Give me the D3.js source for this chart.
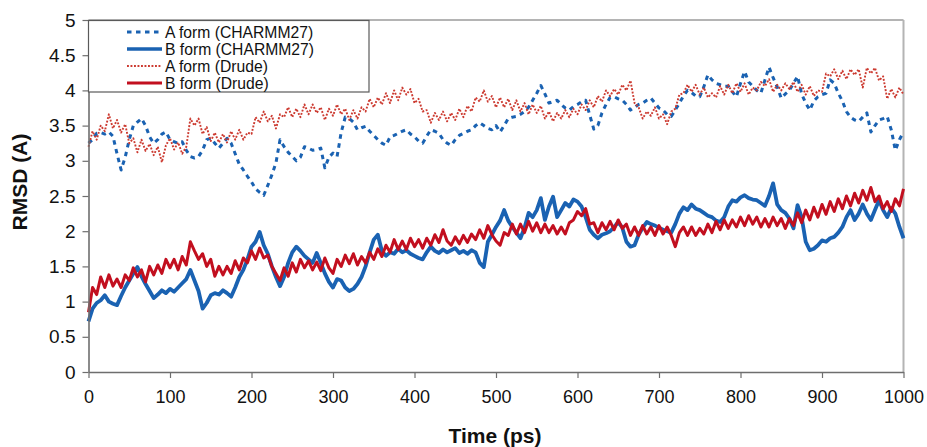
<!DOCTYPE html>
<html>
<head>
<meta charset="utf-8">
<script src="https://cdn.jsdelivr.net/npm/d3@7"></script>
<style>
  html, body { margin: 0; padding: 0; background: #fff; }
  svg { display: block; font-family: "Liberation Sans", Arial, sans-serif; }
</style>
</head>
<body>
<svg id="chart" width="927" height="447"></svg>
<script>
// Time axis: one sample every 5 ps from 0 to 1000 ps
const timeStep = 5;
const xTicks = [0, 100, 200, 300, 400, 500, 600, 700, 800, 900, 1000];
const yTicks = [0, 0.5, 1, 1.5, 2, 2.5, 3, 3.5, 4, 4.5, 5];
const yTickLabels = ["0", "0.5", "1", "1.5", "2", "2.5", "3", "3.5", "4", "4.5", "5"];
const seriesNames = ["A form (CHARMM27)", "B form (CHARMM27)", "A form (Drude)", "B form (Drude)"];

// RMSD (Å) values, 20 samples (100 ps) per row
const aFormCharmm = [
  3.25,3.3,3.39,3.4,3.38,3.41,3.35,3.1,2.87,3.05,3.3,3.5,3.55,3.6,3.5,3.34,3.25,3.3,3.38,3.41,
  3.3,3.27,3.25,3.27,3.15,3.06,3.04,3.06,3.15,3.3,3.32,3.25,3.18,3.25,3.32,3.25,3.1,2.95,2.87,2.78,
  2.7,2.6,2.55,2.51,2.65,2.8,2.97,3.3,3.2,3.12,3.06,3.0,3.05,3.2,3.18,3.15,3.16,3.18,2.9,3.05,
  3.11,3.06,3.4,3.62,3.6,3.55,3.44,3.47,3.49,3.42,3.36,3.3,3.25,3.22,3.34,3.36,3.39,3.42,3.44,3.38,
  3.34,3.28,3.25,3.35,3.44,3.42,3.39,3.3,3.25,3.22,3.3,3.36,3.39,3.42,3.44,3.5,3.54,3.5,3.46,3.44,
  3.5,3.41,3.5,3.6,3.62,3.63,3.66,3.7,3.76,3.86,3.96,4.07,3.95,3.82,3.84,3.86,3.8,3.75,3.72,3.77,
  3.8,3.84,3.86,3.65,3.45,3.5,3.68,3.8,3.9,3.91,3.88,3.86,3.8,3.72,3.76,3.8,3.82,3.86,3.89,3.82,
  3.75,3.72,3.66,3.63,3.72,3.82,3.92,4.0,3.97,3.92,3.91,4.05,4.22,4.15,4.1,4.08,4.06,4.06,3.98,3.91,
  4.1,4.27,4.12,4.06,4.0,3.96,4.15,4.33,4.18,4.05,3.89,3.95,4.0,4.1,4.2,3.95,3.82,3.72,3.85,3.91,
  3.94,3.96,4.15,4.1,3.96,3.85,3.7,3.62,3.58,3.56,3.62,3.68,3.41,3.5,3.58,3.6,3.63,3.44,3.15,3.3,
  3.41
];
const bFormCharmm = [
  0.72,0.9,0.98,1.02,1.09,1.0,0.97,0.95,1.08,1.2,1.3,1.4,1.49,1.36,1.25,1.15,1.05,1.1,1.16,1.12,
  1.18,1.14,1.2,1.26,1.32,1.45,1.3,1.15,0.9,0.98,1.09,1.12,1.1,1.16,1.12,1.07,1.2,1.35,1.45,1.6,
  1.78,1.85,1.99,1.8,1.68,1.5,1.35,1.22,1.35,1.55,1.7,1.78,1.72,1.65,1.6,1.55,1.69,1.55,1.4,1.28,
  1.2,1.32,1.3,1.2,1.15,1.18,1.25,1.35,1.5,1.7,1.88,1.95,1.72,1.65,1.7,1.68,1.75,1.7,1.73,1.68,
  1.65,1.62,1.6,1.7,1.78,1.72,1.69,1.74,1.7,1.73,1.76,1.69,1.72,1.68,1.73,1.7,1.55,1.49,1.85,1.95,
  2.06,2.15,2.3,2.15,2.06,1.98,1.9,2.05,2.26,2.2,2.3,2.47,2.16,2.35,2.49,2.2,2.3,2.4,2.35,2.45,
  2.42,2.35,2.2,2.02,1.95,1.9,1.95,1.97,2.0,2.06,2.13,2.05,1.85,1.78,1.8,1.95,2.05,2.13,2.1,2.08,
  2.05,2.02,2.0,1.98,2.1,2.25,2.34,2.3,2.38,2.32,2.3,2.26,2.22,2.2,2.15,2.13,2.2,2.35,2.44,2.42,
  2.48,2.51,2.47,2.45,2.44,2.4,2.36,2.5,2.68,2.38,2.3,2.26,2.18,2.04,2.37,2.2,1.85,1.73,1.75,1.8,
  1.87,1.85,1.9,1.92,1.98,2.06,2.2,2.3,2.16,2.25,2.38,2.25,2.16,2.3,2.44,2.3,2.2,2.33,2.25,2.06,
  1.9
];
const aFormDrude = [
  3.2,3.42,3.3,3.5,3.42,3.66,3.46,3.58,3.4,3.52,3.25,3.32,3.12,3.3,3.14,3.24,3.08,3.2,2.98,3.22,
  3.32,3.16,3.26,3.1,3.2,3.6,3.5,3.6,3.38,3.48,3.28,3.4,3.26,3.38,3.26,3.42,3.3,3.44,3.3,3.4,
  3.38,3.62,3.54,3.7,3.56,3.64,3.46,3.66,3.62,3.76,3.62,3.74,3.62,3.8,3.66,3.8,3.68,3.76,3.58,3.74,
  3.64,3.8,3.66,3.74,3.58,3.72,3.6,3.76,3.7,3.88,3.76,3.9,3.8,3.96,3.82,4.0,3.86,4.04,3.94,4.02,
  3.82,3.88,3.7,3.72,3.54,3.68,3.58,3.7,3.56,3.68,3.58,3.74,3.62,3.78,3.7,3.9,3.84,4.0,3.84,3.92,
  3.76,3.9,3.76,3.88,3.72,3.86,3.7,3.82,3.66,3.8,3.68,3.78,3.6,3.7,3.56,3.68,3.6,3.72,3.62,3.74,
  3.66,3.8,3.72,3.86,3.76,3.92,3.84,4.0,3.92,4.02,3.94,4.08,4.0,4.14,3.82,3.76,3.6,3.7,3.64,3.76,
  3.6,3.66,3.52,3.7,3.74,3.94,3.96,4.08,3.98,4.08,3.94,4.04,3.9,3.96,3.9,4.06,3.94,4.08,3.96,4.1,
  3.98,4.1,3.94,4.04,4.0,4.12,4.06,4.16,3.98,4.08,4.0,4.1,4.02,4.12,3.98,4.08,3.94,4.06,3.92,4.0,
  3.98,4.24,4.2,4.3,4.16,4.28,4.16,4.3,4.22,4.3,4.04,4.32,4.24,4.32,4.14,4.2,3.88,4.02,3.9,4.04,
  3.94
];
const bFormDrude = [
  0.85,1.2,1.1,1.35,1.2,1.38,1.22,1.32,1.2,1.38,1.3,1.48,1.35,1.45,1.28,1.5,1.38,1.52,1.4,1.6,
  1.48,1.6,1.45,1.64,1.52,1.85,1.72,1.6,1.68,1.5,1.6,1.36,1.5,1.38,1.5,1.4,1.58,1.45,1.62,1.55,
  1.72,1.6,1.76,1.62,1.66,1.5,1.4,1.3,1.48,1.36,1.55,1.42,1.6,1.48,1.58,1.45,1.56,1.44,1.62,1.48,
  1.4,1.6,1.5,1.66,1.54,1.68,1.52,1.64,1.55,1.7,1.6,1.75,1.64,1.8,1.7,1.88,1.74,1.86,1.74,1.9,
  1.78,1.88,1.76,1.9,1.8,1.95,1.84,2.02,1.86,1.8,1.92,1.82,1.94,1.84,1.96,1.88,2.02,1.9,2.08,1.95,
  1.86,1.8,1.98,1.94,2.1,1.96,2.1,1.98,2.14,2.0,2.12,1.98,2.1,1.98,2.08,1.96,2.06,1.96,2.12,2.16,
  2.28,2.22,2.32,2.1,2.12,1.98,2.12,2.02,2.14,2.02,2.16,2.04,2.1,1.94,2.06,1.94,2.08,1.96,2.06,1.94,
  2.08,1.96,2.06,1.94,1.78,1.98,2.06,1.94,2.06,1.94,2.04,1.96,2.1,1.98,2.14,2.02,2.16,2.04,2.16,2.06,
  2.2,2.08,2.22,2.1,2.2,2.06,2.18,2.06,2.2,2.08,2.18,2.04,2.18,2.08,2.26,2.12,2.3,2.16,2.34,2.2,
  2.38,2.24,2.42,2.28,2.46,2.32,2.5,2.36,2.54,2.4,2.58,2.44,2.62,2.42,2.5,2.32,2.42,2.28,2.46,2.36,
  2.6
];

const svg = d3.select("#chart");
const plot = { left: 88.5, right: 903.5, top: 20, bottom: 372 };

const x = d3.scaleLinear().domain([0, 1000]).range([plot.left, plot.right]);
const y = d3.scaleLinear().domain([0, 5]).range([plot.bottom, plot.top]);

const toPoints = vals => vals.map((v, i) => [i * timeStep, v]);
const line = d3.line().x(d => x(d[0])).y(d => y(d[1]));

// Plot frame: light grey top and right edges
svg.append("line")
  .attr("x1", plot.left).attr("x2", plot.right)
  .attr("y1", plot.top).attr("y2", plot.top)
  .attr("stroke", "#b4b4b4").attr("stroke-width", 2);
svg.append("line")
  .attr("x1", plot.right).attr("x2", plot.right)
  .attr("y1", plot.top).attr("y2", plot.bottom)
  .attr("stroke", "#b4b4b4").attr("stroke-width", 2);

// Series styles
const styles = [
  { data: aFormCharmm, color: "#1a62b2", width: 3, dash: "4.5,4.5" },
  { data: bFormCharmm, color: "#1a62b2", width: 3.8, dash: null },
  { data: aFormDrude, color: "#cc3a30", width: 1.9, dash: "1.9,1.6" },
  { data: bFormDrude, color: "#c20f1f", width: 3, dash: null }
];

const seriesG = svg.append("g");
styles.forEach(s => {
  seriesG.append("path")
    .datum(toPoints(s.data))
    .attr("d", line)
    .attr("fill", "none")
    .attr("stroke", s.color)
    .attr("stroke-width", s.width)
    .attr("stroke-linejoin", "round")
    .attr("stroke-dasharray", s.dash);
});

// Axes
const axisColor = "#6e6e6e";
const xAxis = svg.append("g")
  .attr("transform", `translate(0,${plot.bottom})`)
  .call(d3.axisBottom(x).tickValues(xTicks).tickFormat(d3.format("d"))
    .tickSize(6).tickPadding(12).tickSizeOuter(0));
const yAxis = svg.append("g")
  .attr("transform", `translate(${plot.left},0)`)
  .call(d3.axisLeft(y).tickValues(yTicks).tickFormat((d, i) => yTickLabels[i])
    .tickSize(6).tickPadding(7).tickSizeOuter(0));

[xAxis, yAxis].forEach(g => {
  g.select(".domain").attr("stroke", axisColor).attr("stroke-width", 1.6);
  g.selectAll(".tick line").attr("stroke", axisColor).attr("stroke-width", 1.2);
  g.selectAll(".tick text")
    .attr("fill", "#111")
    .style("font-size", "18px")
    .style("font-family", "'Liberation Sans', Arial, sans-serif");
});
yAxis.selectAll(".tick text").style("font-size", "19px");

// Axis titles
svg.append("text")
  .attr("x", 495).attr("y", 443)
  .attr("text-anchor", "middle")
  .style("font-size", "21px").style("font-weight", "bold")
  .attr("fill", "#111")
  .text("Time (ps)");
svg.append("text")
  .attr("transform", "translate(27,182) rotate(-90)")
  .attr("text-anchor", "middle")
  .style("font-size", "21px").style("font-weight", "bold")
  .attr("fill", "#111")
  .text("RMSD (A)");

// Legend
const legend = svg.append("g");
legend.append("rect")
  .attr("x", 88.5).attr("y", 20.5).attr("width", 280.5).attr("height", 71.5)
  .attr("fill", "#fff").attr("stroke", "#5a5a5a").attr("stroke-width", 1.2);
const rowY = [32, 49, 66, 83];
styles.forEach((s, i) => {
  legend.append("line")
    .attr("x1", 127).attr("x2", 162)
    .attr("y1", rowY[i]).attr("y2", rowY[i])
    .attr("stroke", s.color)
    .attr("stroke-width", Math.min(s.width, 3.5))
    .attr("stroke-dasharray", s.dash);
  legend.append("text")
    .attr("x", 165).attr("y", rowY[i] + 5.5)
    .style("font-size", "15.7px")
    .attr("fill", "#111")
    .text(seriesNames[i]);
});
</script>
</body>
</html>
